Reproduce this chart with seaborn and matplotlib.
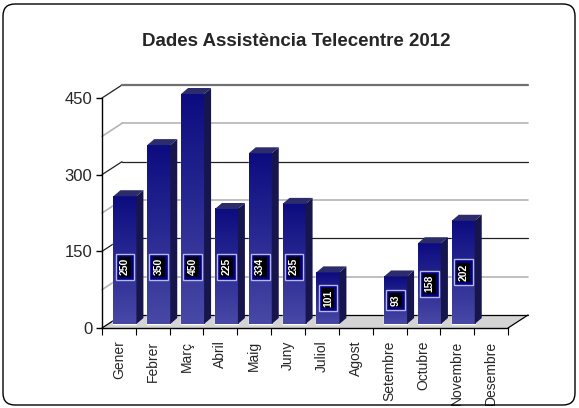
import matplotlib
matplotlib.use("Agg")
import matplotlib.pyplot as plt
import matplotlib.transforms as mtransforms
from matplotlib.patches import Polygon, FancyBboxPatch
from matplotlib.colors import LinearSegmentedColormap
import numpy as np
import pandas as pd
import seaborn as sns

# Dades del gràfic
mesos = ["Gener", "Febrer", "Març", "Abril", "Maig", "Juny", "Juliol", "Agost",
         "Setembre", "Octubre", "Novembre", "Desembre"]
assistencia = [250, 350, 450, 225, 334, 235, 101, 0, 93, 158, 202, 0]
marques_y = [0, 150, 300, 450]
titol = "Dades Assistència Telecentre 2012"

sns.set_theme(style="white")
plt.rcParams['font.family'] = ['Liberation Sans', 'DejaVu Sans']

fig = plt.figure(figsize=(5.79, 4.08), dpi=100)
ax = fig.add_axes([102 / 579, 80 / 408, 406 / 579, 230 / 408])

df = pd.DataFrame({"mes": mesos, "valor": assistencia})
sns.barplot(data=df, x="mes", y="valor", ax=ax, color="#2a2a90", width=0.68,
            saturation=1, zorder=5)
ax.set_xlim(-0.5, 11.5)
ax.set_ylim(0, 450)

# escala pixel -> dades, per simular la profunditat 3D
esc = ax.transData.transform([[1, 1]])[0] - ax.transData.transform([[0, 0]])[0]
def px(dx, dy):
    return dx / esc[0], dy / esc[1]

WX, WY = px(20, 13)   # fons de la paret
BX, BY = px(6, 4)     # desplaçament de les barres
DX, DY = px(7, 6)     # profunditat de les barres

# --- paret del fons i línies de quadrícula ---
x0, x1 = -0.5, 11.5
for nivell in range(75, 451, 75):
    if nivell == 450:
        col, lw = "#707070", 1.6
    elif nivell % 150 == 0:
        col, lw = "#222222", 0.9
    else:
        col, lw = "#b4b4b4", 1.2
    ax.plot([x0, x0 + WX], [nivell, nivell + WY],
            color="#222222" if nivell % 150 == 0 else col, lw=0.9 if nivell % 150 == 0 else lw,
            zorder=1, clip_on=False)
    ax.plot([x0 + WX, x1 + WX], [nivell + WY, nivell + WY],
            color=col, lw=lw, zorder=1, clip_on=False)

# terra
terra = Polygon([(x0, 0), (x1, 0), (x1 + WX, WY), (x0 + WX, WY)],
                closed=True, fc="#d4d4d4", ec="none", zorder=2, clip_on=False)
ax.add_patch(terra)
ax.plot([x0 + WX, x1 + WX], [WY, WY], color="black", lw=0.9, zorder=2, clip_on=False)
ax.plot([x1, x1 + WX], [0, WY], color="black", lw=0.9, zorder=2, clip_on=False)
ax.plot([x0, x0 + WX], [0, WY], color="black", lw=0.9, zorder=2, clip_on=False)

# --- barres amb degradat i cares laterals ---
cmap = LinearSegmentedColormap.from_list("blau", ["#4848a6", "#0c0c80"])
grad = np.linspace(0, 1, 128).reshape(-1, 1)

for patch, v in zip(ax.patches, assistencia):
    xb = patch.get_x() + BX
    w = patch.get_width()
    h = patch.get_height()
    patch.set_x(xb)
    patch.set_y(BY)
    patch.set_clip_on(False)
    if h <= 0:
        patch.set_visible(False)
        continue
    im = ax.imshow(grad, extent=[xb, xb + w, BY, BY + h], aspect="auto", cmap=cmap,
                   origin="lower", zorder=6)
    im.set_clip_on(False)
    lateral = Polygon([(xb + w, BY), (xb + w, BY + h), (xb + w + DX, BY + h + DY),
                       (xb + w + DX, BY + DY)], closed=True, fc="#16164c",
                      ec="none", zorder=6, clip_on=False)
    sostre = Polygon([(xb, BY + h), (xb + w, BY + h), (xb + w + DX, BY + h + DY),
                      (xb + DX, BY + h + DY)], closed=True, fc="#2c2c6c",
                     ec="none", zorder=6, clip_on=False)
    ax.add_patch(lateral)
    ax.add_patch(sostre)

    # etiqueta del valor
    yl = BY + min(v / 2, 112)
    xc = xb + w / 2
    ax.text(xc, yl, str(v), rotation=90, ha="center", va="center", fontsize=7.5,
            fontweight="bold", color="white", zorder=10,
            bbox=dict(boxstyle="square,pad=0.42", fc="#000080", ec="#b8b8e8", lw=1))
    ax.text(xc, yl, str(v), rotation=90, ha="center", va="center", fontsize=7.5,
            fontweight="bold", color="white", zorder=11,
            bbox=dict(boxstyle="square,pad=0.12", fc="black", ec="none"))

ax.set_xlim(-0.5, 11.5)
ax.set_ylim(0, 450)

# --- eixos ---
ax.set_facecolor("none")
ax.set_xlabel("")
ax.set_ylabel("")
ax.set_yticks(marques_y)
ax.set_xticks(range(len(mesos)))
ax.set_xticklabels(mesos, rotation=90, fontsize=10)
ax.set_xticks(np.arange(-0.5, 12, 1), minor=True)
ax.tick_params(axis="y", left=True, length=4, width=1, color="black",
               labelsize=12, pad=3)
ax.tick_params(axis="x", which="major", bottom=True, length=0, pad=9)
ax.tick_params(axis="x", which="minor", bottom=True, length=5, width=0.8,
               color="black")
for lado in ["top", "right"]:
    ax.spines[lado].set_visible(False)
for lado in ["left", "bottom"]:
    ax.spines[lado].set_color("black")
    ax.spines[lado].set_linewidth(1)
    ax.spines[lado].set_zorder(3)

fig.text(296 / 579, 1 - 42 / 408, titol, ha="center", va="center",
         fontsize=13.5, fontweight="bold")

vora = FancyBboxPatch((3, 3), 572, 401, boxstyle="round,pad=0,rounding_size=12",
                      transform=mtransforms.IdentityTransform(), fill=False,
                      ec="black", lw=1)
fig.add_artist(vora)

fig.savefig("out.png", dpi=100)
